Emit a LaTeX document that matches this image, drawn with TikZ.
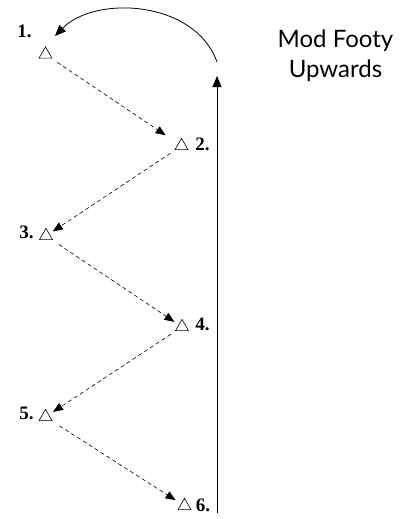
\documentclass[tikz,border=0pt]{standalone}
\usepackage{fontspec}
\setmainfont{Liberation Serif}
\setsansfont{Lato}
\usetikzlibrary{arrows.meta,shapes.geometric}
\begin{document}
\begin{tikzpicture}[x=1pt,y=-1pt,
  tri/.style={regular polygon,regular polygon sides=3,minimum size=15pt,inner sep=0pt,draw,line width=0.6pt},
  num/.style={font=\fontsize{19}{19}\selectfont\bfseries,inner sep=0pt},
  dsh/.style={dash pattern=on 4pt off 3pt,line width=0.6pt,-{Triangle[length=10pt,width=8pt]}},
  mainarrow/.style={line width=1pt,-{Triangle[length=11pt,width=9pt]}},
  curvearrow/.style={line width=0.8pt,-{Triangle[length=11pt,width=9pt]}}]
\useasboundingbox (0,0) rectangle (403,519);
% triangles
\node[tri] (t1) at (45.5,54.4) {};
\node[tri] (t2) at (181.5,145.9) {};
\node[tri] (t3) at (46,235.9) {};
\node[tri] (t4) at (182,326.9) {};
\node[tri] (t5) at (45.5,416.9) {};
\node[tri] (t6) at (184.5,505.9) {};
% labels
\node[num] (l1) at (24.5,31) {1.};
\node[num] (l2) at (202.5,144.5) {2.};
\node[num] (l3) at (26.5,232) {3.};
\node[num] (l4) at (202.5,324.5) {4.};
\node[num] (l5) at (26.5,413.5) {5.};
\node[num] (l6) at (203,505.5) {6.};
% dashed arrows
\draw[dsh,shorten <=7pt,shorten >=15pt] (t1) -- (t2);
\draw[dsh,shorten <=6pt,shorten >=4pt] (t2) -- (t3);
\draw[dsh,shorten <=8pt,shorten >=5pt] (t3) -- (t4);
\draw[dsh,shorten <=6pt,shorten >=5pt] (t4) -- (t5);
\draw[dsh,shorten <=9pt,shorten >=6.5pt] (t5) -- (t6);
% upward arrow and loop back
\coordinate (vb) at (217,513);
\coordinate (vt) at (217,76);
\coordinate (cs) at (217,62);
\coordinate (ce) at (55,36);
\draw[mainarrow] (vb) -- (vt);
\draw[curvearrow] (cs) .. controls (195,0) and (95,-5) .. (ce);
% title
\node[font=\sffamily\fontsize{24}{30}\selectfont,align=center,inner sep=0pt] (title) at (335.5,55.5) {Mod Footy\\Upwards};
\end{tikzpicture}
\end{document}
